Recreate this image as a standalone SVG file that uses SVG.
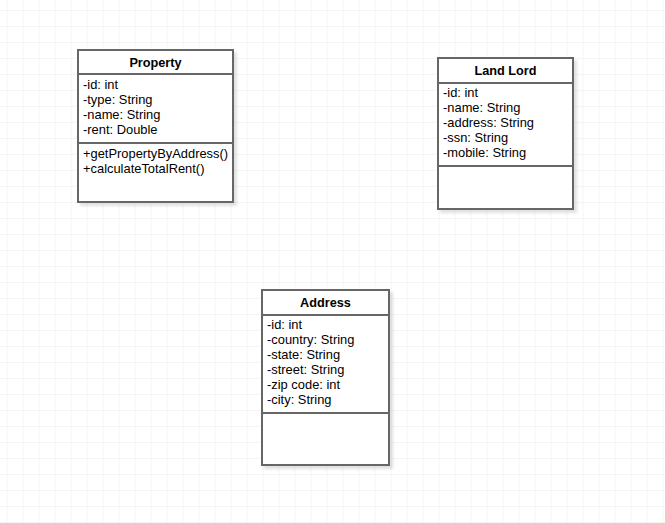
<svg xmlns="http://www.w3.org/2000/svg" width="665" height="523" viewBox="0 0 665 523">
<defs>
<pattern id="grid" x="6.5" y="10" width="16" height="16" patternUnits="userSpaceOnUse">
<path d="M0 0 H16 M0 0 V16" fill="none" stroke="#ebebeb" stroke-width="1"/>
</pattern>
<filter id="sh" x="-10%" y="-10%" width="130%" height="130%">
<feGaussianBlur in="SourceAlpha" stdDeviation="1.5"/>
<feOffset dx="3" dy="3" result="b"/>
<feComponentTransfer><feFuncA type="linear" slope="0.12"/></feComponentTransfer>
<feMerge><feMergeNode/><feMergeNode in="SourceGraphic"/></feMerge>
</filter>
</defs>
<style>
.box{fill:#ffffff;stroke:#666666;stroke-width:2}
.ln{stroke:#666666;stroke-width:2}
text{font-family:"Liberation Sans",Arial,sans-serif;font-size:12.9px;fill:#000000}
.t{font-weight:bold;text-anchor:middle;font-size:12.7px}
</style>
<rect width="665" height="523" fill="#ffffff"/>
<rect width="665" height="523" fill="url(#grid)"/>
<g id="connectors"></g>
<g id="property">
<rect class="box" x="78" y="50" width="155" height="152" filter="url(#sh)"/>
<line class="ln" x1="78" y1="74" x2="233" y2="74"/>
<line class="ln" x1="78" y1="143" x2="233" y2="143"/>
<text class="t" x="155.5" y="67">Property</text>
<text x="83" y="89">-id: int</text>
<text x="83" y="104">-type: String</text>
<text x="83" y="119">-name: String</text>
<text x="83" y="134">-rent: Double</text>
<text x="83" y="158">+getPropertyByAddress()</text>
<text x="83" y="173">+calculateTotalRent()</text>
</g>
<g id="landlord">
<rect class="box" x="438" y="58" width="135" height="151" filter="url(#sh)"/>
<line class="ln" x1="438" y1="83" x2="573" y2="83"/>
<line class="ln" x1="438" y1="166" x2="573" y2="166"/>
<text class="t" x="505.5" y="75">Land Lord</text>
<text x="443" y="97">-id: int</text>
<text x="443" y="112">-name: String</text>
<text x="443" y="127">-address: String</text>
<text x="443" y="142">-ssn: String</text>
<text x="443" y="157">-mobile: String</text>
</g>
<g id="address">
<rect class="box" x="262" y="290" width="127" height="175" filter="url(#sh)"/>
<line class="ln" x1="262" y1="315" x2="389" y2="315"/>
<line class="ln" x1="262" y1="413" x2="389" y2="413"/>
<text class="t" x="325.5" y="307">Address</text>
<text x="267" y="329">-id: int</text>
<text x="267" y="344">-country: String</text>
<text x="267" y="359">-state: String</text>
<text x="267" y="374">-street: String</text>
<text x="267" y="389">-zip code: int</text>
<text x="267" y="404">-city: String</text>
</g>
</svg>
